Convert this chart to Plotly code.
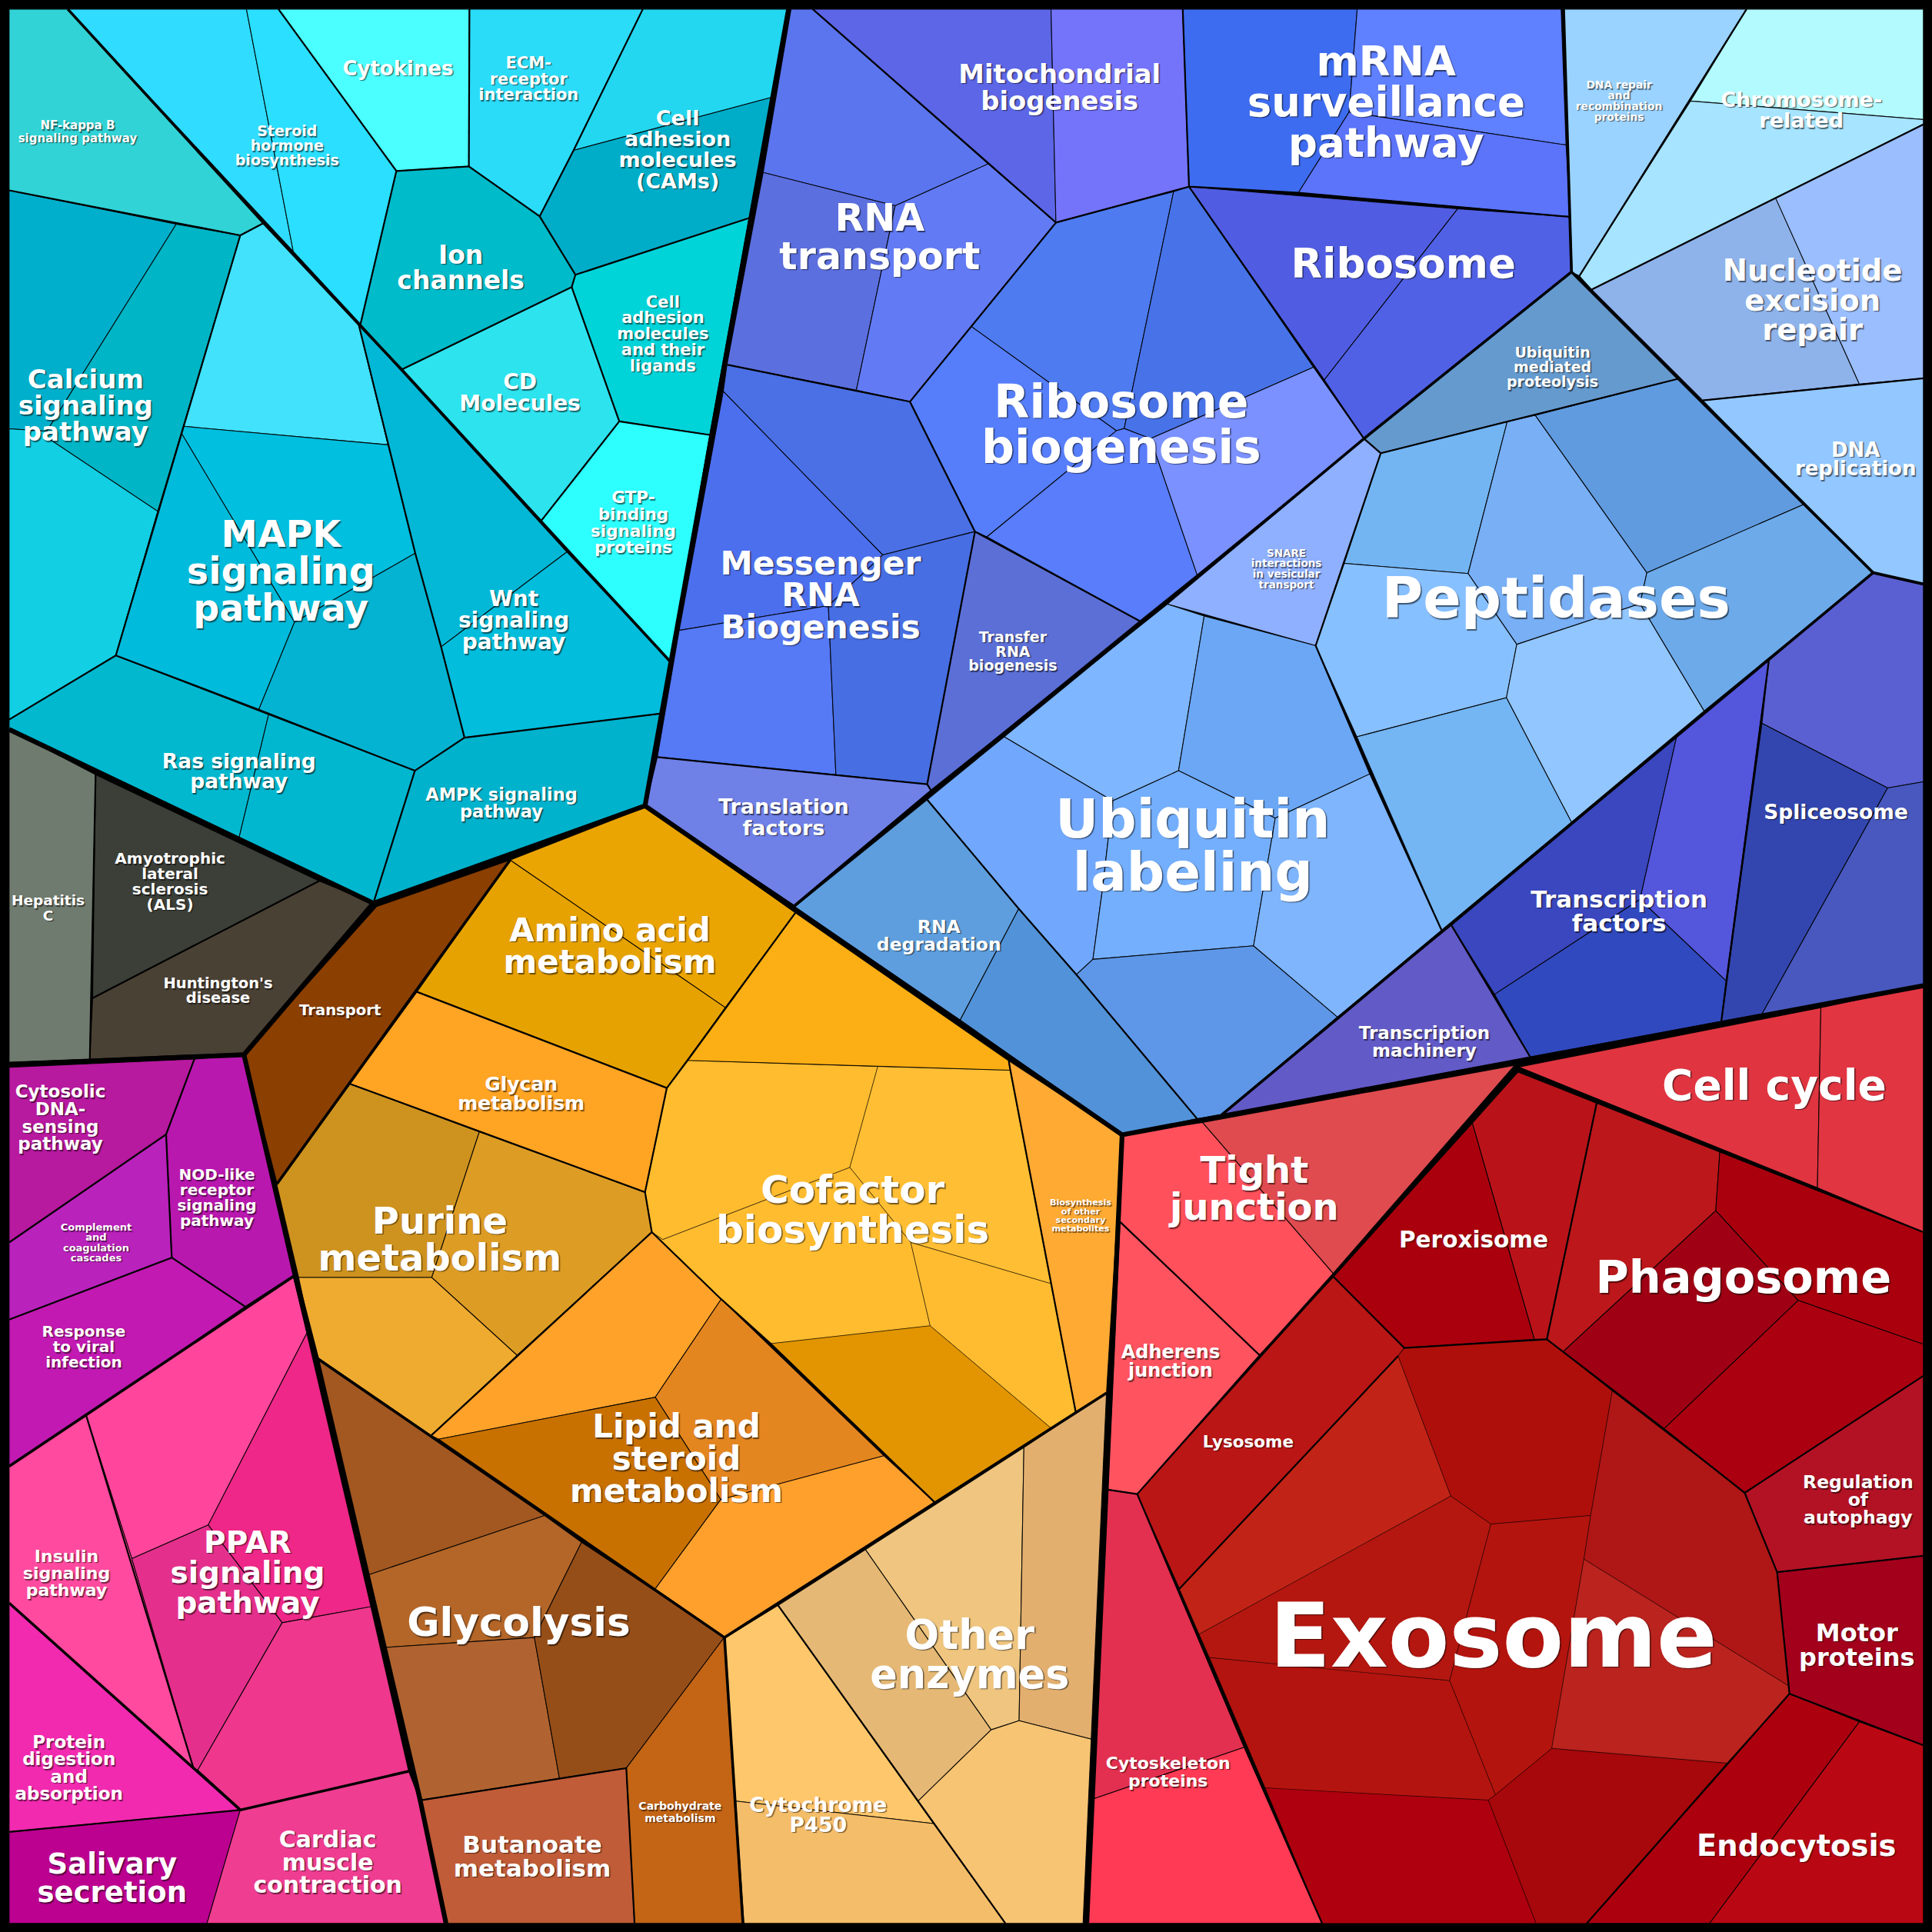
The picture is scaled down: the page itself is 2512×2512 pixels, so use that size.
import plotly.graph_objects as go

T, B, R = 7.4, 1561, 1561

# ---------- leaf cells: outline vertices ----------
SIGNAL_CELLS = [
 [(T,T),(55,T),(214,181),(195,191),(T,154.5)],
 [(T,154.5),(143,182),(38,350),(T,348)],
 [(143,182),(195,191),(128,415),(38,355),(38,350)],
 [(T,348),(38,350),(38,355),(128,415),(94,532),(T,584)],
 [(214,181),(291,263),(315,361),(149,346),(195,191)],
 [(149,346),(315,361),(337,449),(239,505),(147.5,352)],
 [(147.5,352),(239,505),(210,576),(94,532),(128,415)],
 [(239,505),(337,449),(358,525),(377,598.7),(336.7,625.5),(210,576)],
 [(291,263),(460,448),(358,525),(337,449),(315,361)],
 [(460,448),(544,537),(537,579),(377,598.7),(358,525)],
 [(T,584),(94,532),(218,580),(194,680),(T,592)],
 [(218,580),(336.7,625.5),(303,733),(194,680)],
 [(336.7,625.5),(377,598.7),(537,579),(523,653),(303,733)],
 [(55,T),(200,T),(238,204)],
 [(200,T),(226,T),(321.7,138.8),(292.6,263),(238,204)],
 [(226,T),(381,T),(380.5,135),(321.7,138.8)],
 [(381,T),(521.7,T),(465.5,122),(438,175.6),(380.5,135)],
 [(521.7,T),(639.5,T),(626.5,79),(465.5,122)],
 [(465.5,122),(626.5,79),(608,177),(467,223),(438,175.6)],
 [(321.7,138.8),(380.5,135),(438,175.6),(467,223),(464,233),(326,300),(292.6,263)],
 [(467,223),(608,177),(576,353),(502.6,342),(464,233)],
 [(464,233),(502.6,342),(439,423),(326,300)],
 [(502.6,342),(576,353),(544,537),(439,423)],
]
SIGNAL_COLORS = ["#31D3D6","#00AFCB","#00B5C5","#12CFE3","#42E2FD","#00BFDF","#00BBDB","#03B3D1",
 "#03B8D6","#02BDDC","#01B8CF","#01B7D0","#00B2CC","#30DCFF","#2ADFFF","#4BFEFF","#2BDCF9","#23D7F0",
 "#00ADC8","#00BBC9","#00D4D9","#2DE3EE","#2DFFFF"]

RNA_CELLS = [
 [(642,T),(659.6,T),(802,133),(726.5,167),(619.4,140)],
 [(619.4,140),(726.5,167),(695,316.7),(590,296)],
 [(726.5,167),(802,133),(857,180.6),(788.3,265),(738.5,326),(695,316.7)],
 [(659.6,T),(853,T),(857,180.6)],
 [(853,T),(959.9,T),(965,151.5),(857,180.6)],
 [(857,180.6),(952.5,155.5),(912.4,347.8),(906,349.6),(788.3,265)],
 [(952.5,155.5),(965,151.5),(1066,298),(933.8,356),(912.4,347.8)],
 [(788.3,265),(906,349.6),(801,435.7),(791.3,431.4),(738.5,326)],
 [(906,349.6),(912.4,347.8),(933.8,356),(971.6,466.5),(925,504),(801,435.7)],
 [(933.8,356),(1066,298),(1107,356),(971.6,466.5)],
 [(590,296),(738.5,326),(791.3,431.4),(716.4,450.4),(587,317.7)],
 [(587,317.7),(716.4,450.4),(672.3,491.6),(551.2,511.6)],
 [(551.2,511.6),(672.3,491.6),(678.4,628.8),(533.5,614.4)],
 [(716.4,450.4),(791.3,431.4),(752.5,636.5),(678.4,628.8),(672.3,491.6)],
 [(791.3,431.4),(925,504),(755.9,642),(752.5,636.5)],
 [(533.5,614.4),(752.5,636.5),(755.9,642),(645,735),(524,654)],
 [(965,151.5),(1183,169.5),(1074.8,308.3)],
 [(1183,169.5),(1274.4,176),(1275.4,220.7),(1107,356),(1074.8,308.3)],
 [(959.9,T),(1101.5,T),(1094.9,91),(1053.7,156.5),(965,151.5)],
 [(1101.5,T),(1267,T),(1271,117.7),(1094.9,91)],
 [(1094.9,91),(1271,117.7),(1274.4,176),(1053.7,156.5)],
]
RNA_COLORS = ["#5B75EE","#5B6FDF","#627BF4","#5C66E6","#7474FB","#4E7BF0","#4873E8","#567EFA","#597DFB",
 "#7A91FF","#4B70E5","#4C6FEE","#5679F6","#476EE3","#5C6FD6","#6F80E7","#505DE2","#5061E6","#3E6CF0",
 "#5F80FF","#5B74FA"]

DNA_CELLS = [
 [(1269,T),(1417.5,T),(1281.8,224),(1276,221),(1274.4,176)],
 [(1417.5,T),(R,T),(R,97),(1372,82)],
 [(1372,82),(R,97),(R,101),(1291.8,235),(1281.8,224)],
 [(1441,160.5),(1509,311.6),(1382,325),(1291.8,235)],
 [(1441,160.5),(R,101),(R,307),(1509,311.6)],
 [(1382,325),(R,307),(R,474),(1520.2,464.8)],
 [(1275.4,220.7),(1361.4,307.6),(1120.6,367.8),(1107,356)],
 [(946.5,490),(1107,356),(1120.6,367.8),(1067.8,524)],
]
DNA_COLORS = ["#9AD3FF","#B3FAFF","#A6E4FF","#8EB2EA","#9ABEFE","#93C7FF","#659ACE","#8FB0FF"]

PEPTIDASE_CELLS = [
 [(1120.6,367.8),(1223.3,342),(1191.5,465.5),(1091,457.2)],
 [(1223.3,342),(1246,337),(1336.6,464.8),(1331,490),(1231,523),(1191.5,465.5)],
 [(1246,337),(1361.4,307.6),(1463.4,409.6),(1336.6,464.8)],
 [(1336.6,464.8),(1463.4,409.6),(1520.2,464.8),(1383,577),(1331,490)],
 [(1091,457.2),(1191.5,465.5),(1231,523),(1222.6,566.3),(1101.2,598),(1067.8,524)],
 [(1231,523),(1331,490),(1383,577),(1275.4,667.3),(1222.6,566.3)],
 [(1101.2,598),(1222.6,566.3),(1275.4,667.3),(1170,755)],
]
PEPTIDASE_COLORS = ["#73B5F3","#78AFF5","#609BDF","#6DAAEA","#87C0FF","#92C6FE","#74B5F3"]

UBIQUITIN_CELLS = [
 [(815,598),(946.5,490),(977.3,500),(956.5,625.5),(903,650)],
 [(977.3,500),(1067.8,524),(1112,628),(1035,664),(956.5,625.5)],
 [(815,598),(903,650),(894.7,722),(887,778.6),(873.6,791),(826.8,737.5),(752.5,649)],
 [(903,650),(956.5,625.5),(1035,664),(1017.4,767.6),(887,778.6),(894.7,722)],
 [(873.6,791),(887,778.6),(1017.4,767.6),(1085.5,825.4),(991.6,904.7),(971.6,908)],
 [(1035,664),(1112,628),(1170,755),(1085.5,825.4),(1017.4,767.6)],
 [(752.5,649),(826.8,737.5),(779.3,827.8),(645,736)],
 [(826.8,737.5),(873.6,791),(971.6,908),(910.7,920.4),(779.3,827.8)],
]
UBIQUITIN_COLORS = ["#7EB6FF","#6BA7F5","#71A8FD","#74AFFD","#5E97E7","#7EB5FD","#5E9EDE","#5292D8"]

TRANSCRIPTION_CELLS = [
 [(1178,751),(1242,858),(991.6,904.7),(1085.5,825.4)],
 [(1178,751),(1360.7,598),(1331,730),(1213,807)],
 [(1360.7,598),(1435.6,536),(1400.8,796),(1331,730)],
 [(1213,807),(1331,730),(1400.8,796),(1397,829),(1242,858)],
 [(1520.2,464.8),(R,474),(R,634.5),(1532,639.5),(1430,587),(1435.6,536)],
 [(1430,587),(1532,639.5),(1430,823),(1397,829)],
 [(1532,639.5),(R,634.5),(R,800),(1430,823)],
]
TRANSCRIPTION_COLORS = ["#625AC7","#3A47BF","#5456DC","#3149BE","#5A60D1","#3346AF","#4858BE"]

CELLULAR_CELLS = [
 [(910.7,921),(976,911),(1082,1033.4),(1022.4,1100),(909,991.6)],
 [(976,911),(1229.3,864.6),(1082,1033.4)],
 [(909,991.6),(1022.4,1100),(923,1212.6),(899,1209)],
 [(899,1209),(923,1212.6),(1010,1418),(887.3,1460)],
 [(887.3,1460),(1010,1418),(1073,B),(882.3,B)],
 [(1232.6,866),(1477.8,817.8),(1475,964)],
 [(1477.8,817.8),(R,800),(R,1000),(1475,964)],
 [(1195,911.4),(1245.3,1087),(1139.7,1094),(1082,1036)],
 [(1195,911.4),(1232,869.6),(1296,894.7),(1255.4,1087),(1245.3,1087)],
 [(1296,894.7),(1395.8,934.8),(1392.5,982.6),(1268.4,1097.2),(1255.4,1087)],
 [(1395.8,934.8),(R,1000),(R,1091),(1459.4,1055.4),(1392.5,982.6)],
 [(1392.5,982.6),(1459.4,1055.4),(1350.4,1159.7),(1268.4,1097.2)],
 [(1459.4,1055.4),(R,1091),(R,1116.6),(1416,1211.6),(1350.4,1159.7)],
 [(1416,1211.6),(R,1116.6),(R,1262.7),(1442.3,1276)],
 [(1442.3,1276),(R,1262.7),(R,1416.5),(1452.3,1374.7)],
 [(1452.3,1374.7),(1509,1397.5),(1387.5,B),(1287.8,B),(1401.5,1431)],
 [(1509,1397.5),(R,1416.5),(R,B),(1387.5,B)],
 [(923,1212.6),(1082,1036),(1139.7,1094),(1134.7,1100.5),(957.2,1289.5)],
]
CELLULAR_COLORS = ["#FF505B","#DF4B4F","#FF5360","#E33050","#FF3A55","#E03540","#E13542","#AA000D","#B91319",
 "#BC171B","#AA000E","#A00014","#AB0010","#B31225","#A3001C","#AC000F","#B90813","#BB1616"]

EXOSOME_CELLS = [
 [(1134.7,1100.5),(1177.5,1214.2),(1043.7,1287.8),(973.2,1326.3),(957.2,1289.5)],
 [(1139.7,1094),(1255.4,1087),(1308.5,1129),(1291,1230),(1210,1237),(1177.5,1214.2),(1134.7,1100.5)],
 [(973.2,1326.3),(1043.7,1287.8),(1177.5,1214.2),(1210,1237),(1176.5,1364),(1077,1355),(981.6,1345.3)],
 [(1210,1237),(1291,1230),(1285.5,1265.4),(1259.4,1419),(1213.6,1456.7),(1176.5,1364)],
 [(1308.5,1129),(1416,1211.6),(1442.3,1276),(1452.3,1368.7),(1285.5,1265.4),(1291,1230)],
 [(1285.5,1265.4),(1452.3,1368.7),(1452.3,1374.7),(1401.5,1431),(1259.4,1419)],
 [(981.6,1345.3),(1176.5,1364),(1213.6,1456.7),(1208,1461),(1043.7,1452.3),(1026.8,1451)],
 [(1026.8,1451),(1208,1461),(1246.7,B),(1073,B)],
 [(1208,1461),(1213.6,1456.7),(1259.4,1419),(1401.5,1431),(1287.8,B),(1246.7,B)],
]
EXOSOME_COLORS = ["#C12417","#AE0F0B","#B41710","#B4140E","#AF1616","#BA231E","#B4140F","#AE000E","#A7080B"]

COFACTOR_CELLS = [
 [(558,860.6),(712.4,865.6),(689.7,947.5),(537.9,1006),(529,1000),(523.5,967.6),(541.2,883)],
 [(712.4,865.6),(820,868.6),(852.9,1041.8),(739.2,1008.4),(689.7,947.5)],
 [(537.9,1006),(689.7,947.5),(739.2,1008.4),(754.9,1076),(625.5,1090.5),(585.3,1054.4),(529,1000)],
 [(739.2,1008.4),(852.9,1041.8),(873,1145.7),(852.9,1159),(754.9,1076)],
 [(625.5,1090.5),(754.9,1076),(852.9,1159),(758.6,1219.3)],
]
COFACTOR_COLORS = ["#FFBC2F","#FFBE33","#FFBC2F","#FFBC30","#E29500"]

METABOLISM_CELLS = [
 [(414,698),(524,655),(645.5,740.8),(588.7,817.8)],
 [(414,698),(588.7,817.8),(541.2,883),(338.4,805)],
 [(645.5,740.8),(818.7,861),(820,868.6),(558,860.6),(588.7,817.8)],
 [(338.4,805),(541.2,883),(523.5,967.6),(284,879.6)],
 [(284,879.6),(389,918.7),(350.4,1036.8),(242.4,1036.8),(224.7,961.6)],
 [(389,918.7),(523.5,967.6),(529,1000),(419.7,1100),(350.4,1036.8)],
 [(242.4,1036.8),(350.4,1036.8),(419.7,1100),(350,1165),(256,1100.5)],
 [(529,1000),(585.3,1054.4),(531.8,1134),(356,1168),(350,1165),(419.7,1100)],
 [(585.3,1054.4),(717.4,1181.5),(585,1217),(531.8,1134)],
 [(356,1168),(531.8,1134),(585,1217),(531.8,1289.5)],
 [(585,1217),(717.4,1181.5),(758.6,1219.3),(588,1328.6),(531.8,1289.5)],
 [(820,868.6),(818.7,861),(910.7,921),(898,1130.6),(873,1145.7)],
 [(305.6,735.8),(414,698),(224.7,960),(198,856)],
]
METABOLISM_COLORS = ["#EBA502","#E6A200","#FBAF14","#FFA423","#CE931F","#DD9C24","#EFAB30","#FFA22A","#E48620",
 "#C87100","#FFA02D","#FFAA33","#8B3F00"]

LOWER_CELLS = [
 [(831,1174.8),(702.4,1257.7),(804.4,1403.9),(827.1,1396.5)],
 [(831,1174.8),(898,1130.6),(885.6,1411.5),(827.1,1396.5)],
 [(702.4,1257.7),(804.4,1403.9),(745.2,1461.7),(631.5,1302.9)],
 [(804.4,1403.9),(827.1,1396.5),(885.6,1411.5),(879,B),(816,B),(745.2,1461.7)],
 [(588,1329.6),(631.5,1302.9),(757.6,1480),(597,1461.7)],
 [(597,1461.7),(757.6,1480),(816,B),(603.7,B)],
 [(256.8,1102),(442,1230),(298.3,1278.4)],
 [(298.3,1278.4),(442,1230),(472,1251.7),(433.7,1329),(312.7,1337)],
 [(312.7,1337),(433.7,1329),(454,1443.3),(341.8,1461)],
 [(472,1251.7),(588,1328.6),(508.3,1435),(454,1443.3),(433.7,1329)],
 [(341.8,1461),(508.3,1435),(515,B),(362,B)],
 [(508.3,1435),(588,1328.6),(602.7,B),(515,B)],
]
LOWER_COLORS = ["#EFC57F","#E2AF6F","#E5B975","#F7C474","#FFC76B","#F4BD69","#A25820","#B36628","#B06330",
 "#964E18","#C05C38","#C36515"]

DISEASE_CELLS = [
 [(T,592),(77.6,628.8),(72.9,859.5),(T,862)],
 [(77.6,628.8),(259,715),(75.2,810)],
 [(259,715),(303,733),(198,854.5),(72.9,859.5),(75.2,810)],
 [(T,866.2),(157.8,859.5),(134.8,920.7),(T,1008.4)],
 [(157.8,859.5),(198,856),(238,1035),(199,1060.4),(139.4,1020.7),(134.8,920.7)],
 [(T,1008.4),(134.8,920.7),(139.4,1020.7),(T,1071)],
 [(T,1071),(139.4,1020.7),(199,1060.4),(70,1149),(T,1190)],
 [(238,1036),(249,1082),(169,1237.7),(107,1265),(70,1149)],
 [(70,1149),(107,1265),(157,1435),(T,1301),(T,1190)],
 [(249,1082),(301,1304),(229,1317),(169,1237.7)],
 [(107,1265),(169,1237.7),(229,1317),(160.5,1436.6),(157,1435)],
 [(229,1317),(301,1304),(331.7,1437.6),(195.6,1468.4),(160.5,1436.6)],
 [(T,1301),(195,1469),(T,1486.8)],
 [(T,1486.8),(195,1469),(168,B),(T,B)],
 [(195,1469),(331.7,1437.6),(341,1461.7),(362,B),(168,B)],
]
DISEASE_COLORS = ["#6F7B6E","#3C3F38","#4A4135","#B7199F","#B918AF","#BA22BC","#C119B1","#FF469C","#FF4A9F",
 "#EE2788","#E4308C","#EE378D","#F22AB0","#BC0090","#EF3D91"]

# ---------- borders between pathways and between categories ----------
BORDERS_HEAVY = [
 [(640,T),(523.5,654),(303,733),(T,592)],
 [(303,733),(198,856),(T,864)],
 [(198,856),(240,1037),(256.8,1102),(341,1461),(362,B)],
 [(523.5,654),(910.7,921),(882,B)],
 [(910.7,921),(R,800)],
]
BORDERS_MEDIUM = [
 [(55,T),(214,181),(291,263),(326,300),(439,423),(544,537)],
 [(1520.2,464.8),(991.6,904.7)],
 [(1520.2,464.8),(R,474)],
 [(1269,T),(1275.4,220.7),(1520.2,464.8)],
 [(645,735),(755.9,642),(946.5,490),(1107,356),(1275.4,220.7)],
 [(T,1190),(238,1036)],
 [(T,1301),(195,1469),(331.7,1437.6)],
 [(414,698),(224.7,961)],
 [(256.8,1102),(588,1329),(898,1130.6)],
 [(588,1329),(603,B)],
]
BORDERS_NORMAL = [
 [(T,154.5),(195,191),(214,181)],
 [(195,191),(94,532),(T,584)],
 [(94,532),(210,576),(336.7,625.5),(377,598.7),(537,579)],
 [(336.7,625.5),(303,733)],
 [(291,263),(315,361),(337,449),(358,525),(377,598.7)],
 [(226,T),(321.7,138.8),(292.6,263)],
 [(321.7,138.8),(380.5,135),(438,175.6),(467,223),(464,233),(326,300)],
 [(381,T),(380.5,135)],
 [(521.7,T),(465.5,122),(438,175.6)],
 [(608,177),(467,223)],
 [(464,233),(502.6,342),(439,423)],
 [(502.6,342),(576,353)],
 [(659.6,T),(857,180.6),(738.5,326),(791.3,431.4),(925,504)],
 [(857,180.6),(965,151.5),(1107,356)],
 [(959.9,T),(965,151.5),(1053.7,156.5),(1274.4,176)],
 [(590,296),(738.5,326)],
 [(791.3,431.4),(752.5,636.5),(755.9,642)],
 [(533.5,614.4),(752.5,636.5)],
 [(1417.5,T),(1281.8,224)],
 [(R,101),(1291.8,235)],
 [(1382,325),(R,307)],
 [(1107,356),(1120.6,367.8),(1361.4,307.6)],
 [(1120.6,367.8),(1067.8,524),(1112,628),(1170,755)],
 [(752.5,649),(826.8,737.5),(873.6,791),(971.6,908)],
 [(1178,751),(1242,858)],
 [(1435.6,536),(1397,829)],
 [(1232,866),(1232,869.6),(R,1000)],
 [(1232,869.6),(1082,1036),(1022.4,1100),(923,1212.6),(1010,1418),(1073,B)],
 [(899,1209),(923,1212.6)],
 [(1082,1036),(1139.7,1094),(1255.4,1087),(1350.4,1159.7),(1416,1211.6),(1442.3,1276),(1452.3,1374.7),(1287.8,B)],
 [(1296,894.7),(1255.4,1087)],
 [(1416,1211.6),(R,1116.6)],
 [(1442.3,1276),(R,1262.7)],
 [(1452.3,1374.7),(R,1416.5)],
 [(909,991.6),(1022.4,1100)],
 [(1134.7,1100.5),(957.2,1289.5)],
 [(338.4,805),(541.2,883),(558,860.6),(645.5,740.8)],
 [(284,879.6),(523.5,967.6),(541.2,883)],
 [(523.5,967.6),(529,1000),(350,1165)],
 [(529,1000),(585.3,1054.4),(625.5,1090.5),(758.6,1219.3)],
 [(818.7,861),(820,868.6),(873,1145.7)],
 [(341.8,1461),(508.3,1435),(515,B)],
 [(631.5,1302.9),(816,B)],
 [(77.6,628.8),(72.9,859.5)],
 [(259,715),(75.2,810)],
 [(157.8,859.5),(134.8,920.7),(T,1008.4)],
 [(134.8,920.7),(139.4,1020.7),(T,1071)],
 [(139.4,1020.7),(199,1060.4)],
 [(70,1149),(157,1435)],
 [(T,1486.8),(195,1469)],
]

# ---------- labels ----------
LABEL_TEXT = [
 "NF-kappa B\nsignaling pathway","Steroid\nhormone\nbiosynthesis","Cytokines","ECM-\nreceptor\ninteraction",
 "Cell\nadhesion\nmolecules\n(CAMs)","Ion\nchannels","Cell\nadhesion\nmolecules\nand their\nligands","CD\nMolecules",
 "GTP-\nbinding\nsignaling\nproteins","Calcium\nsignaling\npathway","MAPK\nsignaling\npathway","Wnt\nsignaling\npathway",
 "Ras signaling\npathway","AMPK signaling\npathway","Mitochondrial\nbiogenesis","RNA\ntransport",
 "mRNA\nsurveillance\npathway","Ribosome","Ribosome\nbiogenesis","Messenger\nRNA\nBiogenesis",
 "Transfer\nRNA\nbiogenesis","Translation\nfactors","DNA repair\nand\nrecombination\nproteins","Chromosome-\nrelated",
 "Nucleotide\nexcision\nrepair","DNA\nreplication","Ubiquitin\nmediated\nproteolysis","Peptidases",
 "SNARE\ninteractions\nin vesicular\ntransport","Ubiquitin\nlabeling","RNA\ndegradation","Transcription\nfactors",
 "Spliceosome","Transcription\nmachinery","Cell cycle","Tight\njunction",
 "Peroxisome","Phagosome","Adherens\njunction","Lysosome",
 "Regulation\nof\nautophagy","Motor\nproteins","Exosome","Endocytosis",
 "Cytoskeleton\nproteins","Amino acid\nmetabolism","Glycan\nmetabolism","Cofactor\nbiosynthesis",
 "Purine\nmetabolism","Biosynthesis\nof other\nsecondary\nmetabolites","Lipid and\nsteroid\nmetabolism","Other\nenzymes",
 "Glycolysis","Butanoate\nmetabolism","Carbohydrate\nmetabolism","Cytochrome\nP450",
 "Hepatitis\nC","Amyotrophic\nlateral\nsclerosis\n(ALS)","Huntington's\ndisease","Transport",
 "Cytosolic\nDNA-\nsensing\npathway","NOD-like\nreceptor\nsignaling\npathway","Complement\nand\ncoagulation\ncascades","Response\nto viral\ninfection",
 "Insulin\nsignaling\npathway","PPAR\nsignaling\npathway","Protein\ndigestion\nand\nabsorption","Salivary\nsecretion",
 "Cardiac\nmuscle\ncontraction",
]
LABEL_X = [63,233,323,429,550,374,538,422,514,69.5,228,417,194,407,860,714,1125,1139,910,666,822,636,1314,1462,
 1471,1506,1260,1263,1044,968,762,1314,1490,1156,1440,1018,1196,1415,950,1013,1508,1507,1212,1458,948,495,423,692,
 357,877,549,787,421,432,552,664,39,138,177,276,49,176,78,68,54,201,56,91,266]
LABEL_Y = [102,106.5,55.5,51,96,207,245,310,404,308,434,486,618,645,60,177,50,214,326,457,517,655,69,81,
 220,365,286,486,449,665,752,730,659,838.5,881,950,1006,1037,1097.5,1170,1203,1325,1328,1498,1431,755,880,966,
 991,976,1158,1327,1317,1497,1466,1465,731,697,798,820,886,953.5,996,1080.5,1263,1252,1414,1513,1493]
LABEL_STEP = [10,12,0,13,17,20.5,13,17.5,13.5,21.3,30,17.5,16.5,14,22,31,33,0,37,26,11.8,17,8.6,17,
 24,15.5,12,0,8.5,43,14.5,19.5,0,14.5,0,30,0,0,15,0,14.4,20,0,0,14.5,26,15.5,32,
 30,7,26,32,0,19.5,9.5,16,12,12.4,12,0,14.2,12.5,8.3,12.7,13.9,24.5,14,23,18.5]
LABEL_SIZE = [15,19,26,21,27,33,21,28,21.5,34,47.5,28,26.5,22.5,33.8,49,53,53,60,42.5,19,27,13.8,27,
 38.5,26,19,73,13.5,69,23.5,31,26.5,23,55,48,29.5,59,24,21.5,23.5,32,116,38.5,22,42,25,50,
 48,11.2,42,52.5,51.7,31,14,26.5,18.5,20,19.5,19.6,23,20,13,20,22,39,23,37,30]

# ---------- drawing ----------
fig = go.Figure()

def add_cells(polygons, colors, outline="rgba(0,0,0,0.9)", width=1.1):
    for poly, col in zip(polygons, colors):
        xs = [p[0] for p in poly] + [poly[0][0]]
        ys = [p[1] for p in poly] + [poly[0][1]]
        fig.add_trace(go.Scatter(x=xs, y=ys, mode="lines", fill="toself", fillcolor=col,
                                 line=dict(color=outline, width=width), hoverinfo="skip"))

def add_borders(lines, width):
    xs, ys = [], []
    for ln in lines:
        xs += [p[0] for p in ln] + [None]
        ys += [p[1] for p in ln] + [None]
    fig.add_trace(go.Scatter(x=xs, y=ys, mode="lines", line=dict(color="black", width=width), hoverinfo="skip"))

for polys, cols in [(SIGNAL_CELLS, SIGNAL_COLORS), (RNA_CELLS, RNA_COLORS), (DNA_CELLS, DNA_COLORS),
                    (PEPTIDASE_CELLS, PEPTIDASE_COLORS), (UBIQUITIN_CELLS, UBIQUITIN_COLORS),
                    (TRANSCRIPTION_CELLS, TRANSCRIPTION_COLORS), (CELLULAR_CELLS, CELLULAR_COLORS)]:
    add_cells(polys, cols)
add_cells(EXOSOME_CELLS, EXOSOME_COLORS, "rgba(0,0,0,0.45)", 1)
add_cells(COFACTOR_CELLS, COFACTOR_COLORS, "rgba(0,0,0,0.5)", 1)
for polys, cols in [(METABOLISM_CELLS, METABOLISM_COLORS), (LOWER_CELLS, LOWER_COLORS), (DISEASE_CELLS, DISEASE_COLORS)]:
    add_cells(polys, cols)

add_borders(BORDERS_NORMAL, 2.2)
add_borders(BORDERS_MEDIUM, 3.6)
add_borders(BORDERS_HEAVY, 6.2)

tx, ty, ts, tz = [], [], [], []
for text, x, y, step, size in zip(LABEL_TEXT, LABEL_X, LABEL_Y, LABEL_STEP, LABEL_SIZE):
    for i, line in enumerate(text.split("\n")):
        tx.append(x); ty.append(y + i * step + 0.055 * size); ts.append(line); tz.append(size)

fig.add_trace(go.Scatter(x=tx, y=ty, text=ts, mode="text", textposition="middle center", hoverinfo="skip",
                         textfont=dict(family="DejaVu Sans", size=tz, color="white", weight="bold",
                                       shadow="1.5px 1.5px 1px rgba(0,0,0,0.55)")))

fig.update_layout(width=2512, height=2512, autosize=False, showlegend=False,
                  margin=dict(l=0, r=0, t=0, b=0), paper_bgcolor="black", plot_bgcolor="black",
                  xaxis=dict(range=[0, 1568], visible=False, fixedrange=True),
                  yaxis=dict(range=[1568, 0], visible=False, fixedrange=True))

fig.write_html("out.html", config={"displayModeBar": False},
               post_script="document.body.style.margin='0';document.body.style.background='black';")
